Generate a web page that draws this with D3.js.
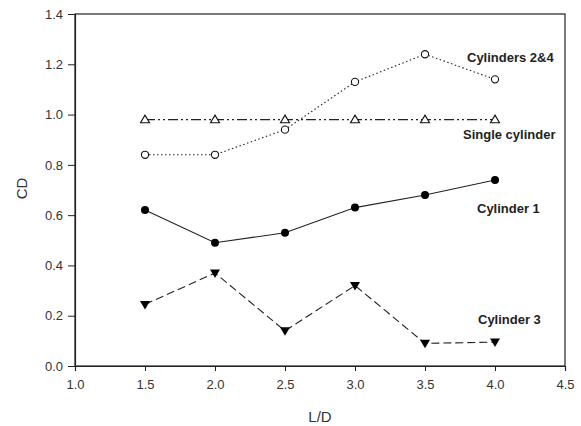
<!DOCTYPE html>
<html><head><meta charset="utf-8">
<script src="https://cdn.jsdelivr.net/npm/d3@7"></script>
<style>body{margin:0;background:#fff}svg{display:block}</style>
</head><body>
<script>
const ld = [1.5, 2.0, 2.5, 3.0, 3.5, 4.0];
const cyl24 = [0.84, 0.84, 0.94, 1.13, 1.24, 1.14];
const single = [0.98, 0.98, 0.98, 0.98, 0.98, 0.98];
const cyl1 = [0.62, 0.49, 0.53, 0.63, 0.68, 0.74];
const cyl3 = [0.245, 0.37, 0.14, 0.32, 0.09, 0.095];
const xTicks = [1.0, 1.5, 2.0, 2.5, 3.0, 3.5, 4.0, 4.5];
const yTicks = [0.0, 0.2, 0.4, 0.6, 0.8, 1.0, 1.2, 1.4];

const W = 581, H = 426;
const m = {l: 75, t: 14, r: 16, b: 60};
const FONT = "Arial, 'Liberation Sans', sans-serif";
const svg = d3.select("body").append("svg").attr("width", W).attr("height", H);
const x = d3.scaleLinear().domain([1.0, 4.5]).range([m.l, W - m.r]);
const y = d3.scaleLinear().domain([0, 1.4]).range([H - m.b, m.t]);

// frame
svg.append("rect").attr("x", m.l).attr("y", m.t)
  .attr("width", x(4.5) - m.l).attr("height", y(0) - m.t)
  .attr("fill", "none").attr("stroke", "#222").attr("stroke-width", 1.2);

const xa = svg.append("g").attr("transform", `translate(0,${y(0)})`)
  .call(d3.axisBottom(x).tickValues(xTicks).tickFormat(d3.format(".1f")).tickSize(5).tickPadding(9));
const ya = svg.append("g").attr("transform", `translate(${m.l},0)`)
  .call(d3.axisLeft(y).tickValues(yTicks).tickFormat(d3.format(".1f")).tickSize(7).tickPadding(5));
[xa, ya].forEach(a => {
  a.select(".domain").attr("stroke", "#222").attr("stroke-width", 1.2);
  a.selectAll(".tick line").attr("stroke", "#222");
  a.selectAll("text").attr("font-family", FONT)
    .attr("font-size", 13).attr("fill", "#333");
});

svg.append("text").attr("x", x(2.75)).attr("y", 422).attr("text-anchor", "middle")
  .attr("font-family", FONT).attr("font-size", 15).attr("fill", "#333").text("L/D");
svg.append("text").attr("transform", `translate(27,188.5) rotate(-90)`).attr("text-anchor", "middle")
  .attr("font-family", FONT).attr("font-size", 15).attr("fill", "#333").text("CD");

const line = d3.line().x((d, i) => x(ld[i])).y(d => y(d));
const series = [
  {v: cyl24, dash: "1.5,2.5", marker: "circleOpen"},
  {v: single, dash: "10,3,2,3,2,3", marker: "triOpen"},
  {v: cyl1, dash: null, marker: "circleFill"},
  {v: cyl3, dash: "8,4", marker: "triDown"}
];
series.forEach(s => {
  svg.append("path").datum(s.v).attr("d", line).attr("fill", "none")
    .attr("stroke", "#222").attr("stroke-width", 1.1)
    .attr("stroke-dasharray", s.dash);
  const g = svg.append("g");
  s.v.forEach((d, i) => {
    const cx = x(ld[i]), cy = y(d);
    if (s.marker === "circleOpen") {
      g.append("circle").attr("cx", cx).attr("cy", cy).attr("r", 3.6).attr("fill", "#fff").attr("stroke", "#111").attr("stroke-width", 1.1);
    } else if (s.marker === "circleFill") {
      g.append("circle").attr("cx", cx).attr("cy", cy).attr("r", 4.0).attr("fill", "#000");
    } else if (s.marker === "triOpen") {
      g.append("path").attr("d", `M${cx},${cy-4.5}L${cx+4.5},${cy+3.2}L${cx-4.5},${cy+3.2}Z`).attr("fill", "#fff").attr("stroke", "#111").attr("stroke-width", 1.1);
    } else {
      g.append("path").attr("d", `M${cx-5},${cy-3.5}L${cx+5},${cy-3.5}L${cx},${cy+5}Z`).attr("fill", "#000");
    }
  });
});

const labels = [
  {t: "Cylinders 2&4", x: 467, y: 62},
  {t: "Single cylinder", x: 463, y: 139},
  {t: "Cylinder 1", x: 477, y: 213},
  {t: "Cylinder 3", x: 478, y: 324}
];
labels.forEach(l => svg.append("text").attr("x", l.x).attr("y", l.y)
  .attr("font-family", FONT).attr("font-weight", "bold")
  .attr("font-size", 13).attr("fill", "#222").text(l.t));
</script>
</body></html>
